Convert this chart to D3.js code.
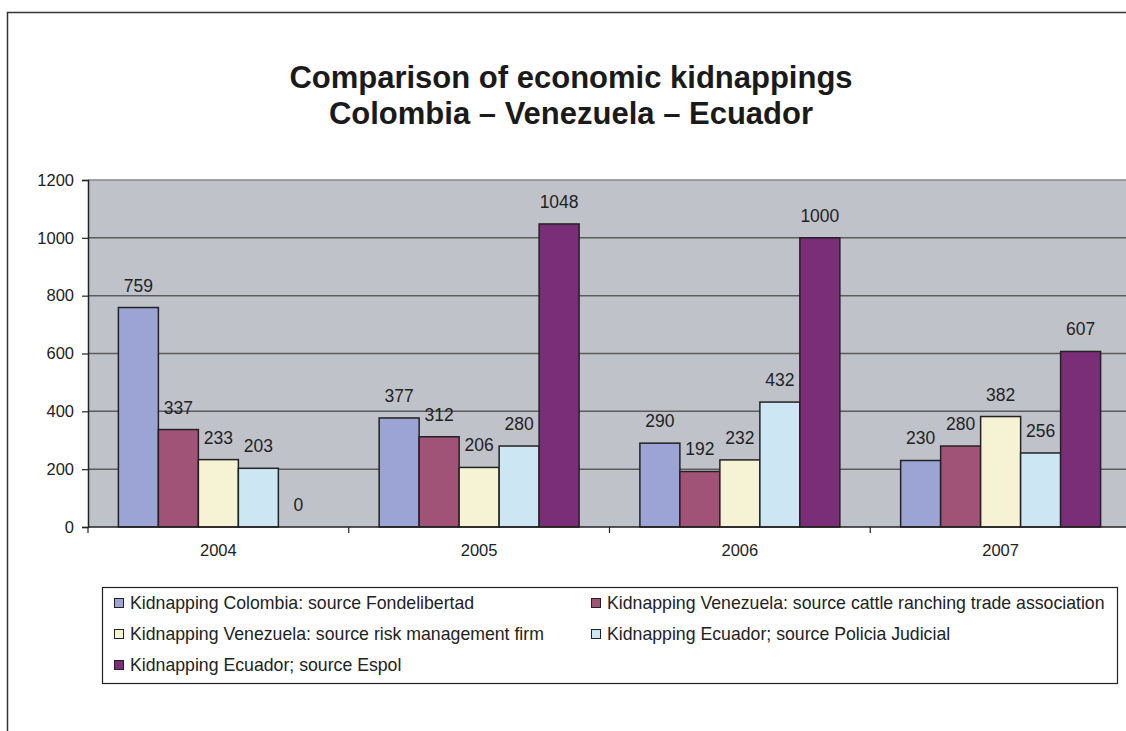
<!DOCTYPE html>
<html>
<head>
<meta charset="utf-8">
<script src="https://cdnjs.cloudflare.com/ajax/libs/d3/7.8.5/d3.min.js"></script>
<style>
  body { margin: 0; background: #fff; overflow: hidden; }
  svg { display: block; font-family: "Liberation Sans", Arial, sans-serif; }
</style>
</head>
<body>
<svg id="chart" width="1126" height="731"></svg>
<script>
// data
var years = ['2004', '2005', '2006', '2007'];
var seriesNames = [
  'Kidnapping Colombia: source Fondelibertad',
  'Kidnapping Venezuela: source cattle ranching trade association',
  'Kidnapping Venezuela: source risk management firm',
  'Kidnapping Ecuador; source Policia Judicial',
  'Kidnapping Ecuador; source Espol'
];
var colombiaFondelibertad = [759, 377, 290, 230];
var venezuelaCattle = [337, 312, 192, 280];
var venezuelaRisk = [233, 206, 232, 382];
var ecuadorPolicia = [203, 280, 432, 256];
var ecuadorEspol = [0, 1048, 1000, 607];
var seriesColors = ['#9ba4d4', '#a05277', '#f5f3d3', '#cce7f3', '#7b2e78'];
var yTicks = [0, 200, 400, 600, 800, 1000, 1200];
var titleLines = ['Comparison of economic kidnappings', 'Colombia \u2013 Venezuela \u2013 Ecuador'];

(function () {
  'use strict';

  var seriesValues = [colombiaFondelibertad, venezuelaCattle, venezuelaRisk, ecuadorPolicia, ecuadorEspol];

  var plot = { left: 88, top: 180, right: 1131, bottom: 527 };

  var svg = d3.select('#chart');

  // outer chart frame (runs off the right and bottom of the picture)
  svg.append('rect')
    .attr('x', 7.5).attr('y', 12.5)
    .attr('width', 1300).attr('height', 900)
    .attr('fill', '#fff').attr('stroke', '#333').attr('stroke-width', 1.5);

  // title
  svg.append('g').selectAll('text').data(titleLines).enter().append('text')
    .attr('x', 571).attr('y', function (d, i) { return 88 + i * 36; })
    .attr('text-anchor', 'middle')
    .attr('font-size', 31).attr('font-weight', 'bold').attr('fill', '#1a1a1a')
    .text(function (d) { return d; });

  var x0 = d3.scaleBand().domain(years).range([plot.left, plot.right]);
  var x1 = d3.scaleBand().domain(d3.range(seriesNames.length))
    .range([0, x0.bandwidth()]).paddingInner(0).paddingOuter(0.76);
  var y = d3.scaleLinear().domain([0, 1200]).range([plot.bottom, plot.top]);

  // plot area
  svg.append('rect')
    .attr('x', plot.left).attr('y', plot.top)
    .attr('width', plot.right - plot.left).attr('height', plot.bottom - plot.top)
    .attr('fill', '#c0c2ca');

  svg.append('g').selectAll('line').data(yTicks.slice(1)).enter().append('line')
    .attr('x1', plot.left).attr('x2', plot.right)
    .attr('y1', function (d) { return y(d); }).attr('y2', function (d) { return y(d); })
    .attr('stroke', function (d) { return d === 1200 ? '#888' : '#5c5c5c'; })
    .attr('stroke-width', 1.5);

  // bars
  var groups = svg.append('g').selectAll('g').data(years).enter().append('g')
    .attr('transform', function (d) { return 'translate(' + x0(d) + ',0)'; });

  var cells = groups.selectAll('g').data(function (d, yi) {
    return seriesValues.map(function (s, si) { return { si: si, v: s[yi] }; });
  }).enter().append('g');

  cells.append('rect')
    .attr('x', function (d) { return x1(d.si); })
    .attr('width', x1.bandwidth())
    .attr('y', function (d) { return y(d.v); })
    .attr('height', function (d) { return y(0) - y(d.v); })
    .attr('fill', function (d) { return seriesColors[d.si]; })
    .attr('stroke', '#222').attr('stroke-width', 1.5)
    .style('display', function (d) { return d.v === 0 ? 'none' : null; });

  cells.append('text')
    .attr('x', function (d) { return x1(d.si) + x1.bandwidth() / 2; })
    .attr('y', function (d) { return y(d.v) - 16; })
    .attr('text-anchor', 'middle')
    .attr('font-size', 17.5).attr('fill', '#222')
    .text(function (d) { return d.v; });

  // y axis
  var yAxis = svg.append('g')
    .attr('transform', 'translate(' + plot.left + ',0)')
    .call(d3.axisLeft(y).tickValues(yTicks).tickFormat(d3.format('d')).tickSize(6).tickPadding(8));
  yAxis.select('.domain').attr('stroke', '#222').attr('stroke-width', 1.5);
  yAxis.selectAll('.tick line').attr('stroke', '#222').attr('stroke-width', 1.2);
  yAxis.selectAll('text').attr('font-size', 16.5).attr('fill', '#222')
    .attr('font-family', '"Liberation Sans", Arial, sans-serif');

  // x axis with ticks on category boundaries
  var xAxis = svg.append('g')
    .attr('transform', 'translate(0,' + plot.bottom + ')');
  xAxis.append('line')
    .attr('x1', plot.left).attr('x2', plot.right)
    .attr('stroke', '#222').attr('stroke-width', 1.5);
  xAxis.selectAll('line.tk').data(years).enter().append('line').attr('class', 'tk')
    .attr('x1', function (d) { return x0(d); }).attr('x2', function (d) { return x0(d); })
    .attr('y1', 0).attr('y2', 6)
    .attr('stroke', '#222').attr('stroke-width', 1.2);
  xAxis.selectAll('text').data(years).enter().append('text')
    .attr('x', function (d) { return x0(d) + x0.bandwidth() / 2; })
    .attr('y', 29)
    .attr('text-anchor', 'middle')
    .attr('font-size', 16.5).attr('fill', '#222')
    .text(function (d) { return d; });

  // legend
  var legend = svg.append('g');
  legend.append('rect')
    .attr('x', 102.5).attr('y', 587.5)
    .attr('width', 1015).attr('height', 96)
    .attr('fill', '#fff').attr('stroke', '#222').attr('stroke-width', 1.2);

  var colX = [114, 591];
  var item = legend.selectAll('g.item').data(seriesNames).enter().append('g')
    .attr('class', 'item')
    .attr('transform', function (d, i) {
      return 'translate(' + colX[i % 2] + ',' + (603 + Math.floor(i / 2) * 31) + ')';
    });
  item.append('rect')
    .attr('x', 0.5).attr('y', -4.5).attr('width', 9).attr('height', 9)
    .attr('fill', function (d, i) { return seriesColors[i]; })
    .attr('stroke', '#222').attr('stroke-width', 1);
  item.append('text')
    .attr('x', 16).attr('y', 6)
    .attr('font-size', 17.7).attr('fill', '#222')
    .text(function (d) { return d; });
})();
</script>
</body>
</html>
